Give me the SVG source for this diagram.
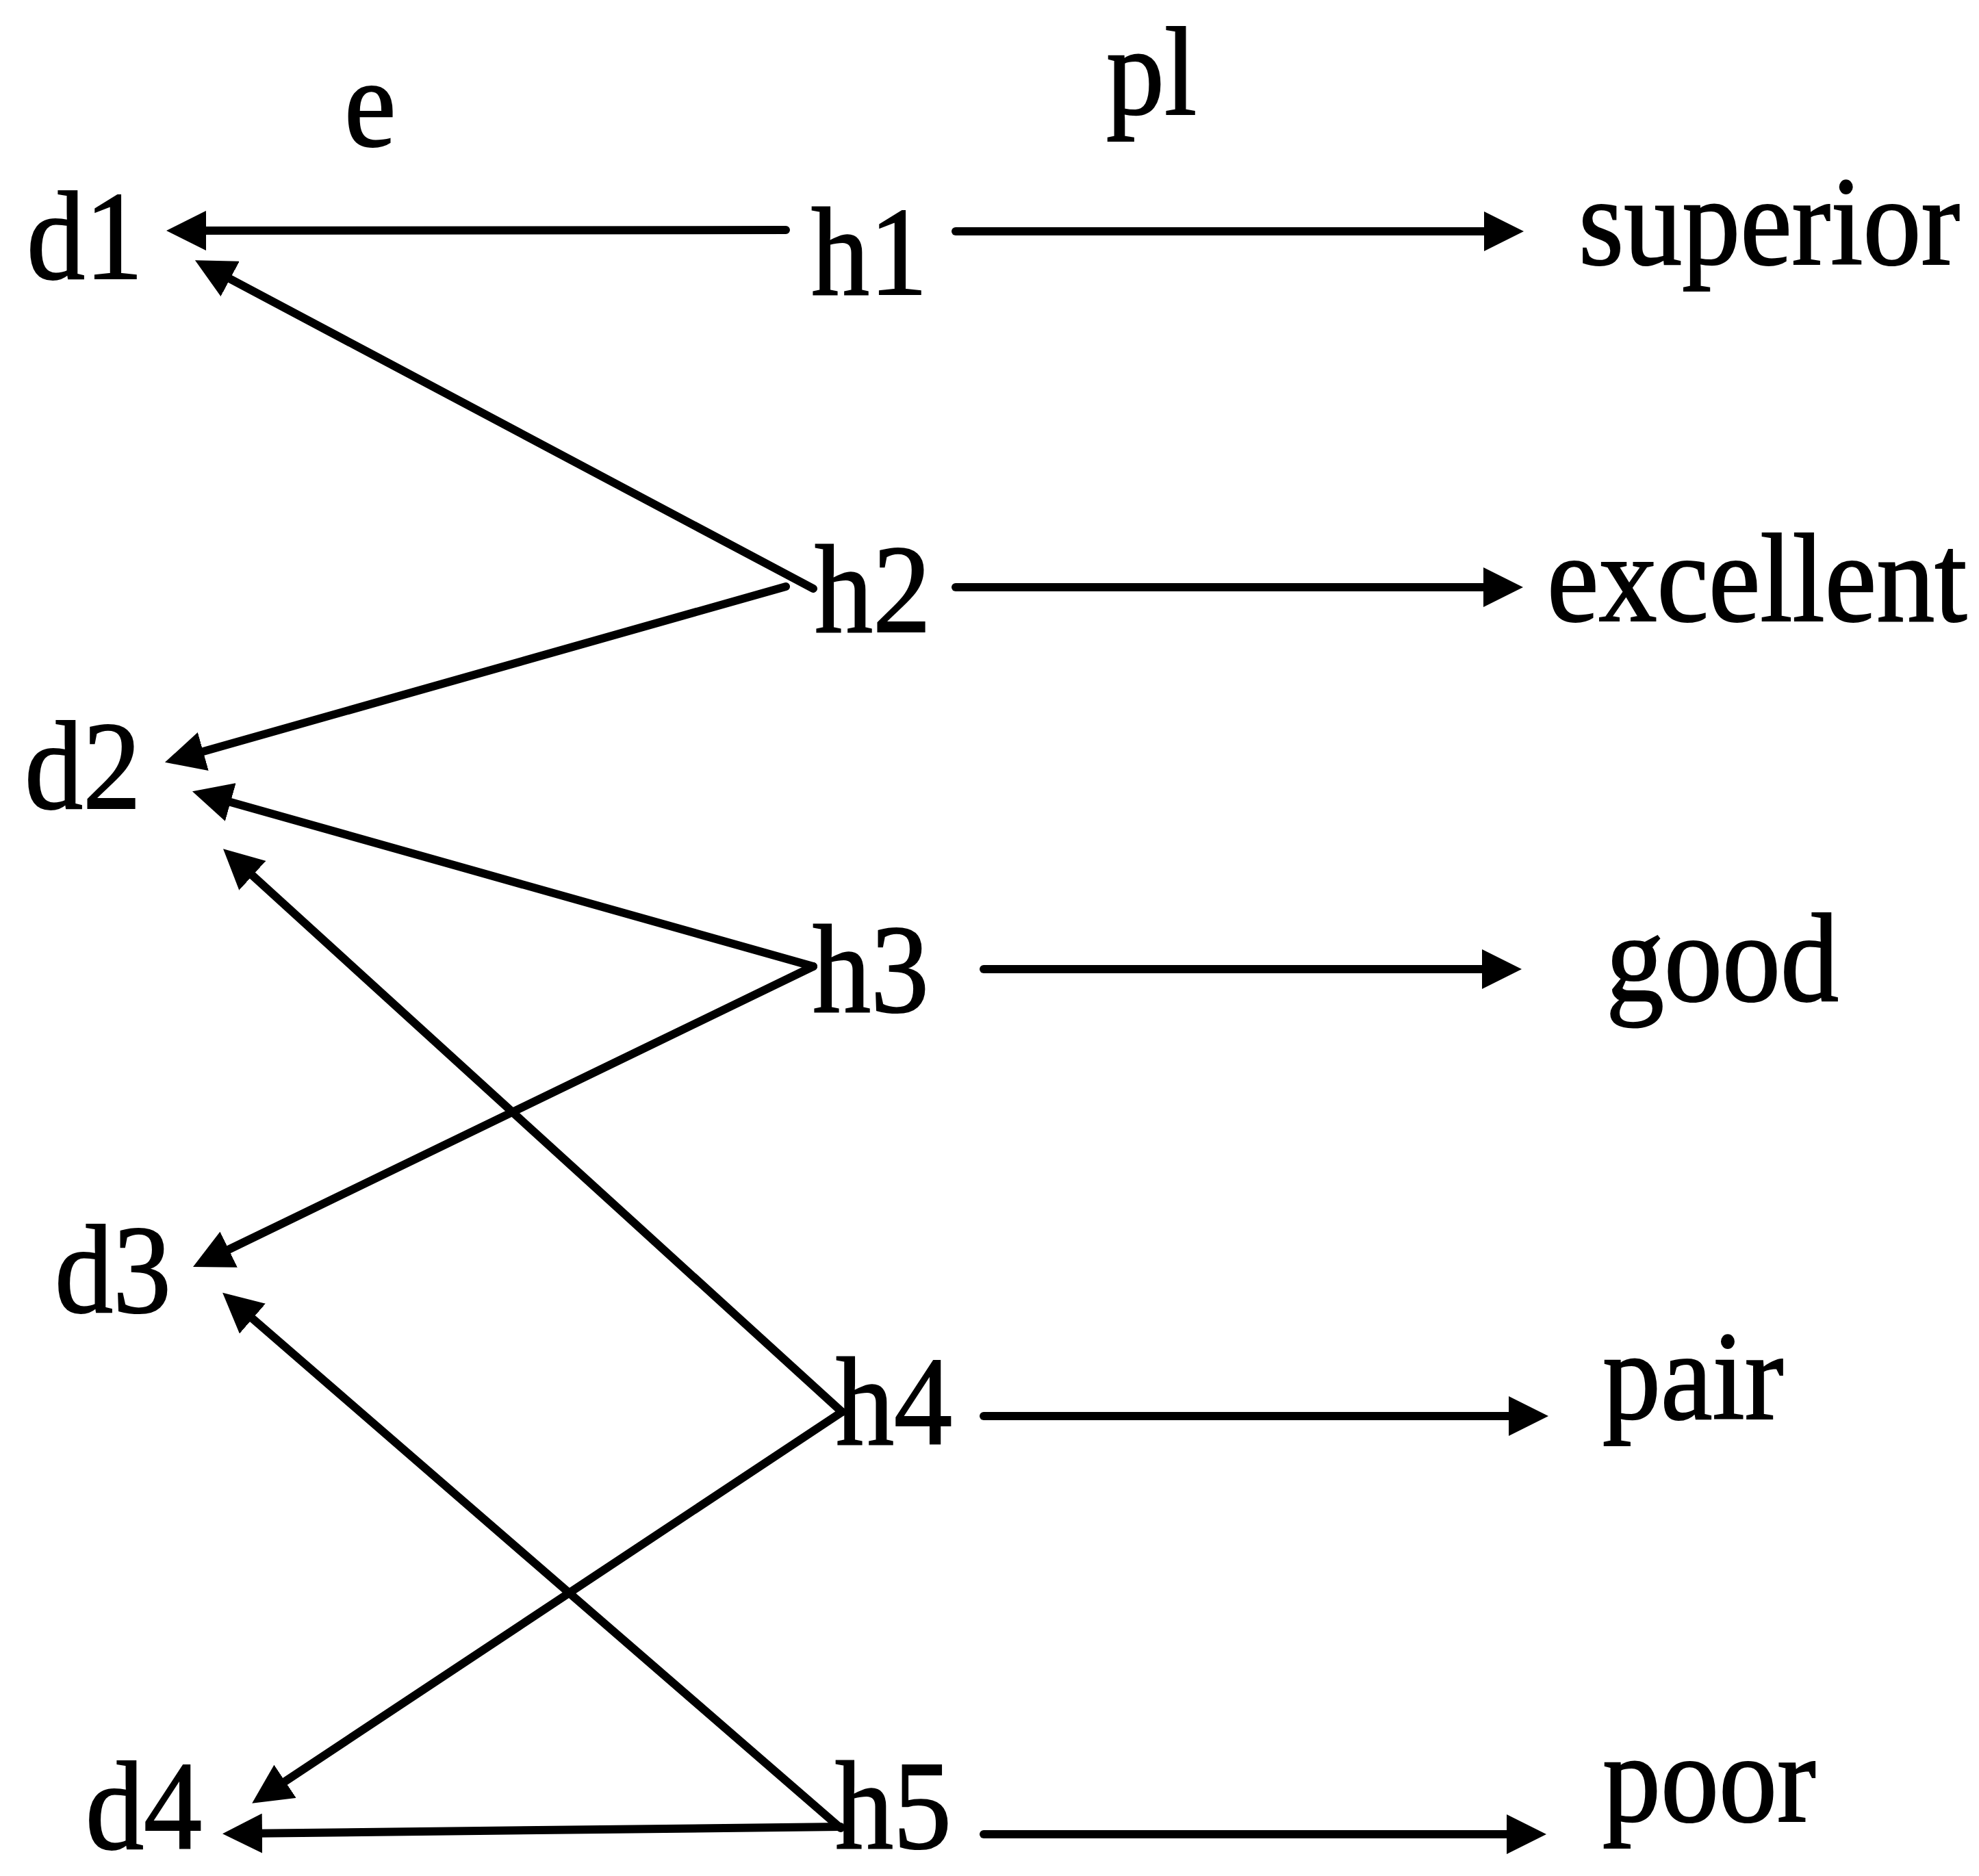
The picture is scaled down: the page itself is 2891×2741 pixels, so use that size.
<svg xmlns="http://www.w3.org/2000/svg" width="2891" height="2741" viewBox="0 0 2891 2741">
<style>
.t{font-family:"Liberation Serif","Times New Roman",serif;font-size:170px;fill:#000;stroke:#000;stroke-width:2}
.c line{stroke:#000;stroke-width:12;stroke-linecap:round;fill:none;marker-end:url(#ah)}
</style>
<defs>
<marker id="ah" markerUnits="userSpaceOnUse" viewBox="0 0 58 58" markerWidth="58" markerHeight="58" refX="33" refY="29" orient="auto">
<path d="M0,0 L58,29 L0,58 z" fill="#000"/>
</marker>
</defs>
<rect width="2891" height="2741" fill="#fff"/>
<g id="labels">
<text class="t" transform="translate(503 213) scale(1 1.08)">e</text>
<text class="t" transform="translate(1616 167) scale(1 1.08)">pl</text>
</g>
<g id="d1"><text class="t" transform="translate(39 407) scale(1 1.08)">d1</text></g>
<g id="d2"><text class="t" transform="translate(36 1181) scale(1 1.08)">d2</text></g>
<g id="d3"><text class="t" transform="translate(80 1917) scale(1 1.08)">d3</text></g>
<g id="d4"><text class="t" transform="translate(125 2701) scale(1 1.08)">d4</text></g>
<g id="h1"><text class="t" transform="translate(1185 430) scale(1 1.08)">h1</text></g>
<g id="h2"><text class="t" transform="translate(1190 923) scale(1 1.08)">h2</text></g>
<g id="h3"><text class="t" transform="translate(1187 1478) scale(1 1.08)">h3</text></g>
<g id="h4"><text class="t" transform="translate(1221 2110) scale(1 1.08)">h4</text></g>
<g id="h5"><text class="t" transform="translate(1220 2700) scale(1 1.08)">h5</text></g>
<g id="superior"><text class="t" transform="translate(2306 386) scale(1 1.08)">superior</text></g>
<g id="excellent"><text class="t" transform="translate(2260 907) scale(1 1.08)">excellent</text></g>
<g id="good"><text class="t" transform="translate(2346 1462) scale(1 1.08)">good</text></g>
<g id="pair"><text class="t" transform="translate(2341 2073) scale(1 1.08)">pair</text></g>
<g id="poor"><text class="t" transform="translate(2341 2661) scale(1 1.08)">poor</text></g>
<g id="connectors" class="c">
<line x1="1148" y1="336" x2="268" y2="337"/>
<line x1="1188" y1="860" x2="307" y2="392"/>
<line x1="1148" y1="857" x2="265" y2="1107"/>
<line x1="1188" y1="1412" x2="305" y2="1163"/>
<line x1="1188" y1="1412" x2="304.5" y2="1840"/>
<line x1="1230" y1="2063" x2="344.5" y2="1257"/>
<line x1="1230" y1="2063" x2="389" y2="2621"/>
<line x1="1228" y1="2671" x2="344" y2="1905"/>
<line x1="1228" y1="2669" x2="350" y2="2679"/>
<line x1="1396" y1="338" x2="2201" y2="338"/>
<line x1="1396" y1="858" x2="2200" y2="858"/>
<line x1="1437" y1="1416" x2="2198" y2="1416"/>
<line x1="1437" y1="2069" x2="2237" y2="2069"/>
<line x1="1437" y1="2680" x2="2234" y2="2680"/>
</g>
</svg>
